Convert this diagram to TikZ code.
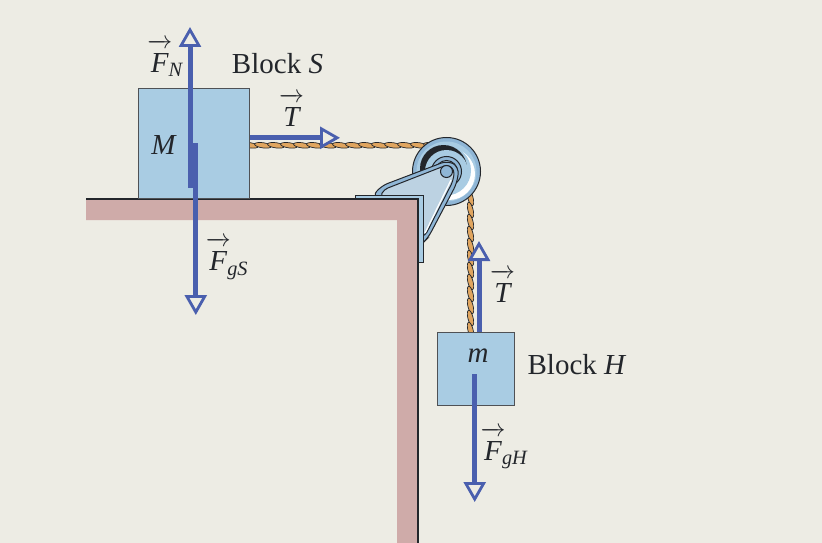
\documentclass[tikz,border=0pt]{standalone}
\usepackage{amsmath,amssymb}
\usepackage{fontspec}
\setmainfont{Liberation Serif}
\usepackage{tikz}
\usetikzlibrary{arrows.meta}

\definecolor{paper}{HTML}{EDECE4}
\definecolor{tablepink}{HTML}{CFABA9}
\definecolor{blockblue}{HTML}{A9CCE3}
\definecolor{forceblue}{HTML}{4A5FAE}
\definecolor{ropetan}{HTML}{E0A55F}
\definecolor{inkdark}{HTML}{23262B}
\definecolor{wheelblue}{HTML}{8FB6D6}
\definecolor{armblue}{HTML}{BCD2E2}

\newcommand{\forcevec}[2]{$\overrightarrow{\rule{0pt}{24pt}\textit{#1}}_{\!\textit{#2}}$}

\tikzset{
  blockbox/.style={draw=inkdark!80,line width=1pt,fill=blockblue,inner sep=0pt},
  force/.style={draw=forceblue,line width=5pt,
    -{Triangle[open,fill=paper,length=20pt,width=22pt,line width=2.8pt]}},
  label/.style={inner sep=0pt,text=inkdark,font=\fontsize{29}{31}\selectfont},
  strand/.style={draw=inkdark,line width=0.7pt,fill=ropetan},
  part/.style={draw=inkdark,line width=1pt}
}

\begin{document}
\begin{tikzpicture}[x=1pt,y=-1pt]
  \fill[paper] (0,0) rectangle (822,543);
  \useasboundingbox (0,0) rectangle (822,543);

  % rope
  \foreach \x in {250,263,...,432}
    \draw[strand] (\x,145.3) ellipse [x radius=8.5,y radius=2.6,rotate=-8];
  \foreach \y in {198,210,...,330}
    \draw[strand] (470.5,\y) ellipse [x radius=2.6,y radius=8,rotate=14];

  % pulley
  \coordinate (axle) at (446.5,171.5);
  \draw[part,fill=wheelblue] (axle) circle (34);
  \fill[blockblue] (axle) circle (30);
  \fill[white] (449,174) circle (26);
  \fill[blockblue] (446,170.5) circle (25);
  \fill[inkdark] (443.5,168.5) circle (23.5);
  \fill[blockblue] (446.5,171.5) circle (21.5);
  \draw[part,fill=wheelblue] (axle) circle (15);
  \draw[part,fill=blockblue] (axle) circle (11);

  % bracket
  \draw[part,fill=wheelblue,rounded corners=7pt] (372,197) -- (381,186) -- (448,160.5)
    -- (459,167) -- (457,183) -- (428,238) -- (421,245) -- (412,225) -- (412,199) -- cycle;
  \draw[part,fill=armblue,rounded corners=4pt] (380,197) -- (384,189.5) -- (448,164.5)
    -- (454.5,170) -- (453,181) -- (425,236) -- (414,236) -- (412,199) -- cycle;
  \draw[white,line width=1.2pt] (451,180) -- (425,233);
  \draw[part,fill=wheelblue] (axle) circle (6);
  \draw[part,fill=blockblue] (355,199) -- (355,195) -- (423,195) -- (423,262) -- (418,262) -- (418,199) -- cycle;

  % table
  \fill[tablepink] (86,199) -- (418,199) -- (418,543) -- (397,543) -- (397,220) -- (86,220) -- cycle;
  \draw[inkdark,line width=1.6pt] (86,199) -- (418,199) -- (418,543);

  % blocks
  \node[blockbox,minimum width=111pt,minimum height=110pt] (blockS) at (193.5,143) {};
  \node[blockbox,minimum width=77pt,minimum height=73pt] (blockH) at (475.5,368.5) {};

  % forces
  \coordinate (fnbase) at (190,187.5);
  \coordinate (fntip) at (190,27);
  \coordinate (fgsbase) at (195.8,143);
  \coordinate (fgstip) at (195.8,315);
  \coordinate (tsbase) at (blockS.east |- 0,137.8);
  \coordinate (tstip) at (340,137.8);
  \coordinate (thbase) at (479,332);
  \coordinate (thtip) at (479,241);
  \coordinate (fghbase) at (474.7,374);
  \coordinate (fghtip) at (474.7,502);
  \draw[force] (fnbase) -- (fntip);
  \draw[force] (fgsbase) -- (fgstip);
  \draw[force] (tsbase) -- (tstip);
  \draw[force] (thbase) -- (thtip);
  \draw[force] (fghbase) -- (fghtip);

  % labels
  \node[label] (massM) at (164,145) {\textit{M}};
  \node[label] (massm) at (478,356) {\textit{m}};
  \node[label] (nameS) at (277.5,64) {Block \textit{S}};
  \node[label] (nameH) at (577,365) {Block \textit{H}};
  \node[label] (vecFN) at (165,58) {\forcevec{F}{N}};
  \node[label] (vecTS) at (290,112) {\forcevec{T}{}};
  \node[label] (vecFS) at (227,259) {\forcevec{F}{gS}};
  \node[label] (vecTH) at (501,288) {\forcevec{T}{}};
  \node[label] (vecFH) at (504,448) {\forcevec{F}{gH}};
\end{tikzpicture}
\end{document}
